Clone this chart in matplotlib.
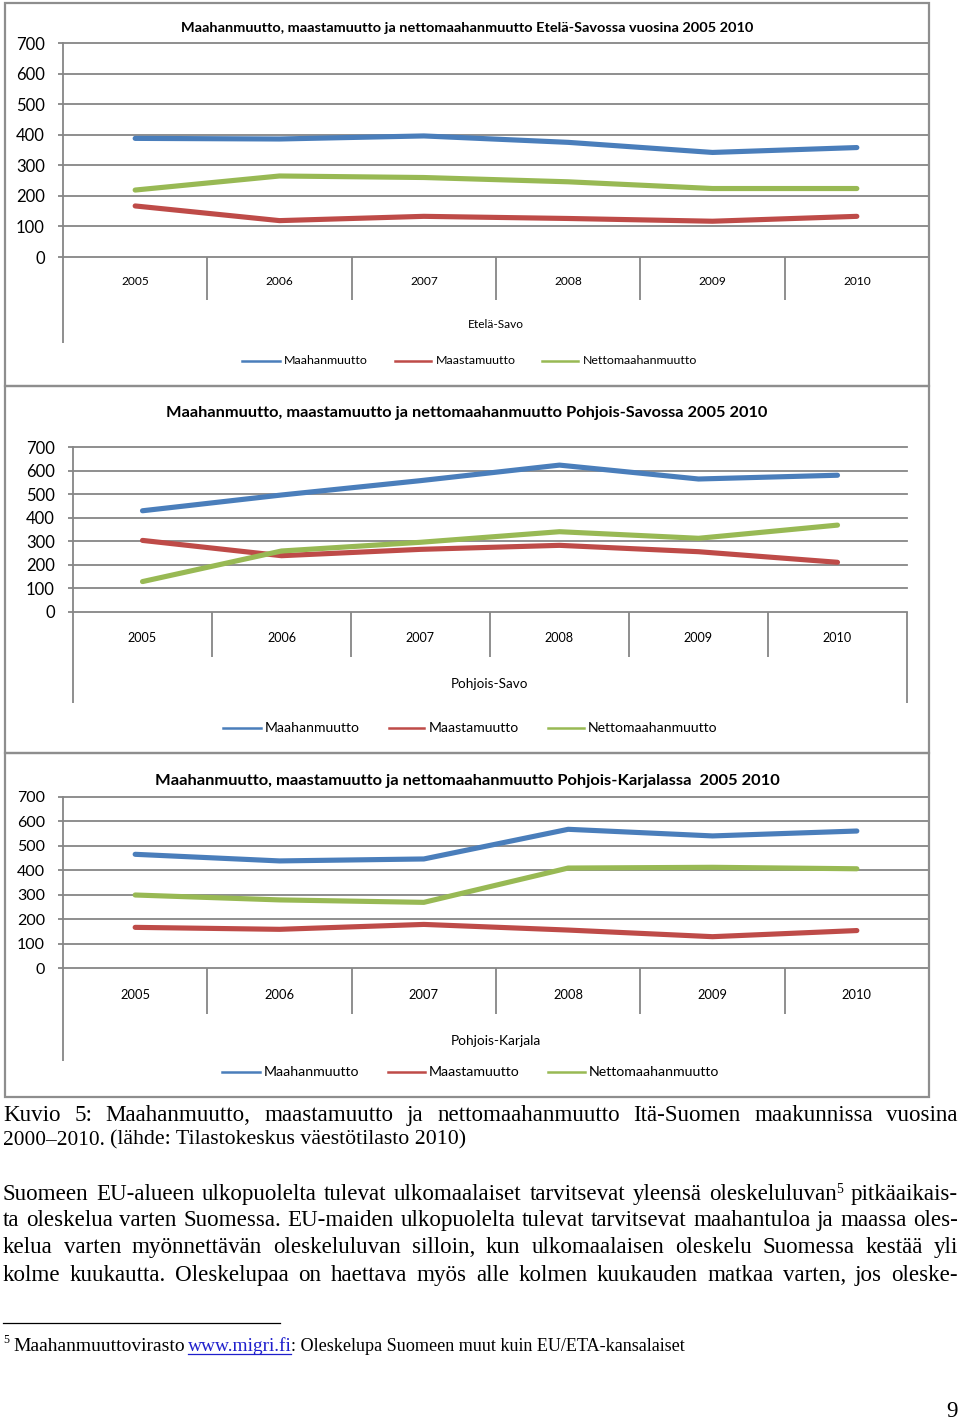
import matplotlib
matplotlib.use("Agg")
import matplotlib.pyplot as plt
from matplotlib.lines import Line2D
from matplotlib.patches import Rectangle

W, H = 960, 1420

years = ["2005", "2006", "2007", "2008", "2009", "2010"]
series_names = ["Maahanmuutto", "Maastamuutto", "Nettomaahanmuutto"]

etela_maahan = [388, 386, 396, 375, 342, 358]
etela_maasta = [167, 119, 133, 126, 117, 133]
etela_netto = [219, 265, 260, 246, 224, 224]

psavo_maahan = [429, 496, 557, 623, 564, 580]
psavo_maasta = [303, 238, 265, 282, 255, 210]
psavo_netto = [128, 258, 295, 340, 312, 368]

pkarj_maahan = [465, 438, 446, 567, 540, 560]
pkarj_maasta = [167, 159, 179, 156, 129, 154]
pkarj_netto = [299, 279, 269, 409, 412, 406]

titles = [
    "Maahanmuutto, maastamuutto ja nettomaahanmuutto Etelä-Savossa vuosina 2005 2010",
    "Maahanmuutto, maastamuutto ja nettomaahanmuutto Pohjois-Savossa 2005 2010",
    "Maahanmuutto, maastamuutto ja nettomaahanmuutto Pohjois-Karjalassa  2005 2010",
]
regions = ["Etelä-Savo", "Pohjois-Savo", "Pohjois-Karjala"]

colors = ["#4A7EBB", "#BE4B48", "#98B954"]
grid_c = "#868686"
frame_c = "#8E8E8E"

fig = plt.figure(figsize=(W / 100, H / 100), dpi=100)
fig.patch.set_facecolor("white")
renderer = fig.canvas.get_renderer()


def fx(x):
    return x / W


def fy(y):
    return 1 - y / H


def text_px(x, y, s, **kw):
    return fig.text(fx(x), fy(y), s, **kw)


def width_of(t):
    return t.get_window_extent(renderer).width


def fit_text(x, y, s, target, **kw):
    t = text_px(x, y, s, **kw)
    t.set_fontsize(t.get_fontsize() * target / width_of(t))
    return t


# layout of the three chart boxes (pixels)
layouts = [
    dict(frame=(5, 3, 929, 386), left=63, right=929, top=43, zero=257, cat_bot=300, ax_bot=343,
         title_y=28, title_w=570, xl_pad=24, reg_x=496, reg_y=325, reg_w=56, leg_y=361,
         leg=[(242, 280, 284), (395, 431, 436), (542, 578, 583)], leg_w=84, ysize=12, xsize=8.6,
         right_line=False),
    dict(frame=(5, 386, 929, 753), left=73, right=907, top=447, zero=611.7, cat_bot=657, ax_bot=703,
         title_y=413, title_w=601, xl_pad=25.6, reg_x=490, reg_y=684, reg_w=77, leg_y=728,
         leg=[(223, 261, 265), (389, 424, 429), (548, 584, 588)], leg_w=95, ysize=12, xsize=9.1,
         right_line=True),
    dict(frame=(5, 753, 929, 1097), left=63, right=929, top=796.7, zero=968.3, cat_bot=1014, ax_bot=1061,
         title_y=781, title_w=624, xl_pad=26, reg_x=496, reg_y=1041, reg_w=91, leg_y=1072,
         leg=[(222, 260, 264), (388, 425, 429), (548, 585, 589)], leg_w=96, ysize=11.5, xsize=9.3,
         right_line=False),
]

data = [
    [etela_maahan, etela_maasta, etela_netto],
    [psavo_maahan, psavo_maasta, psavo_netto],
    [pkarj_maahan, pkarj_maasta, pkarj_netto],
]

font_chart = "Lato"

for lay, vals, title, region in zip(layouts, data, titles, regions):
    x0, y0, x1, y1 = lay["frame"]
    fig.add_artist(Rectangle((fx(x0), fy(y1)), (x1 - x0) / W, (y1 - y0) / H, transform=fig.transFigure,
                             fill=False, edgecolor=frame_c, linewidth=1.6))

    ax = fig.add_axes([fx(lay["left"]), fy(lay["zero"]), (lay["right"] - lay["left"]) / W,
                       (lay["zero"] - lay["top"]) / H])
    ax.set_facecolor("none")
    xs = [i + 0.5 for i in range(len(years))]
    for v, c, name in zip(vals, colors, series_names):
        ax.plot(xs, v, color=c, linewidth=3.7, solid_capstyle="round", solid_joinstyle="round",
                label=name, zorder=3)
    ax.set_xlim(0, len(years))
    ax.set_ylim(0, 700)
    ax.set_yticks(range(0, 701, 100))
    ax.grid(axis="y", color=grid_c, linewidth=1.3)
    for gl in ax.get_ygridlines():
        gl.set_clip_on(False)
    ax.set_axisbelow(True)
    for side in ["top", "right", "bottom"]:
        ax.spines[side].set_visible(False)
    ax.spines["left"].set_color(grid_c)
    ax.spines["left"].set_linewidth(1.3)
    ax.tick_params(axis="y", length=3.6, width=1.3, color=grid_c, pad=9.4, labelsize=lay["ysize"])
    for lbl in ax.get_yticklabels():
        lbl.set_fontfamily(font_chart)
    ax.set_xticks(xs, years)
    ax.tick_params(axis="x", length=0, pad=lay["xl_pad"] * 0.72 + 0.5, labelsize=lay["xsize"])
    for lbl in ax.get_xticklabels():
        lbl.set_fontfamily(font_chart)
        lbl.set_va("center")

    h = lay["zero"] - lay["top"]
    cat_depth = -(lay["cat_bot"] - lay["zero"]) / h
    ax_depth = -(lay["ax_bot"] - lay["zero"]) / h
    tr = ax.get_xaxis_transform()
    ax.vlines(range(1, len(years)), cat_depth, 0, transform=tr, color=grid_c, linewidth=1.3, clip_on=False)
    ax.vlines([0], ax_depth, 0, transform=tr, color=grid_c, linewidth=1.3, clip_on=False)
    if lay["right_line"]:
        ax.vlines([len(years)], ax_depth, 0, transform=tr, color=grid_c, linewidth=1.3, clip_on=False)

    fit_text(467, lay["title_y"], title, lay["title_w"],
             ha="center", va="center", fontweight="bold", family=font_chart, fontsize=11)
    fit_text(lay["reg_x"], lay["reg_y"], region, lay["reg_w"], ha="center", va="center",
             family=font_chart, fontsize=9)

    leg_size = None
    for (lx0, lx1, tx), c, name in zip(lay["leg"], colors, series_names):
        fig.add_artist(Line2D([fx(lx0), fx(lx1)], [fy(lay["leg_y"])] * 2, color=c, linewidth=1.8,
                              transform=fig.transFigure))
        if leg_size is None:
            t = fit_text(tx, lay["leg_y"], name, lay["leg_w"], ha="left", va="center",
                         family=font_chart, fontsize=9)
            leg_size = t.get_fontsize()
        else:
            text_px(tx, lay["leg_y"], name, ha="left", va="center", family=font_chart, fontsize=leg_size)

# ---- body text below the charts ----
serif = "Liberation Serif"

para = [
    "Suomeen EU-alueen ulkopuolelta tulevat ulkomaalaiset tarvitsevat yleensä oleskeluluvan",
    "ta oleskelua varten Suomessa. EU-maiden ulkopuolelta tulevat tarvitsevat maahantuloa ja maassa oles-",
    "kelua varten myönnettävän oleskeluluvan silloin, kun ulkomaalaisen oleskelu Suomessa kestää yli",
    "kolme kuukautta. Oleskelupaa on haettava myös alle kolmen kuukauden matkaa varten, jos oleske-",
]
para_y = [1199.7, 1226.3, 1253.0, 1280.7]

# the widest paragraph line sets the body font size
probe = fit_text(3, 1226.3, para[1], 950, family=serif, fontsize=15)
S = probe.get_fontsize()
probe.remove()


def place_line(tokens, x0, y, x1=None):
    # tokens: (text, size, dy, color, joined) ; joined = no space before
    items = []
    for s, size, dy, color, joined in tokens:
        t = text_px(x0, y + dy, s, ha="left", va="baseline", family=serif, fontsize=size, color=color)
        items.append((t, width_of(t), joined))
    space = text_px(0, 0, "a a", family=serif, fontsize=S)
    a = text_px(0, 0, "aa", family=serif, fontsize=S)
    sp = width_of(space) - width_of(a)
    space.remove()
    a.remove()
    gaps = sum(1 for it in items[1:] if not it[2])
    total = sum(it[1] for it in items)
    if x1 is not None and gaps:
        sp = (x1 - x0 - total) / gaps
    x = x0
    for i, (t, w, joined) in enumerate(items):
        if i > 0 and not joined:
            x += sp
        t.set_x(fx(x))
        x += w


def words(s, size=None, color="black"):
    return [(w, size or S, 0, color, False) for w in s.split(" ")]


cap1 = "Kuvio 5: Maahanmuutto, maastamuutto ja nettomaahanmuutto Itä-Suomen maakunnissa vuosina"
place_line(words(cap1), 3, 1121.3, 958)
fit_text(3, 1144.7, "2000–2010.", 102, ha="left", va="baseline", family=serif, fontsize=S)
fit_text(110, 1144.7, "(lähde: Tilastokeskus väestötilasto 2010)", 355, ha="left", va="baseline",
         family=serif, fontsize=13)

first = words(para[0]) + [("5", S * 0.6, -7, "black", True)] + words("pitkäaikais-")
place_line(first, 3, para_y[0], 958)
for line, y in zip(para[1:], para_y[1:]):
    place_line(words(line), 3, y, 958)

# footnote
fig.add_artist(Line2D([fx(3), fx(280)], [fy(1323)] * 2, color="black", linewidth=0.9,
                      transform=fig.transFigure))
text_px(3, 1343, "5", ha="left", va="baseline", family=serif, fontsize=8.5)
fit_text(13, 1350.7, "Maahanmuuttovirasto", 170, ha="left", va="baseline", family=serif, fontsize=13)
fit_text(188, 1350.7, "www.migri.fi", 103, ha="left", va="baseline", family=serif, fontsize=13,
         color="#1F1FCC")
fig.add_artist(Line2D([fx(188), fx(291)], [fy(1353.5)] * 2, color="#1F1FCC", linewidth=0.9,
                      transform=fig.transFigure))
fit_text(291, 1350.7, ": Oleskelupa Suomeen muut kuin EU/ETA-kansalaiset", 394, ha="left",
         va="baseline", family=serif, fontsize=12)

text_px(958, 1417, "9", ha="right", va="baseline", family=serif, fontsize=S)

fig.savefig("out.png", dpi=100, facecolor="white")
